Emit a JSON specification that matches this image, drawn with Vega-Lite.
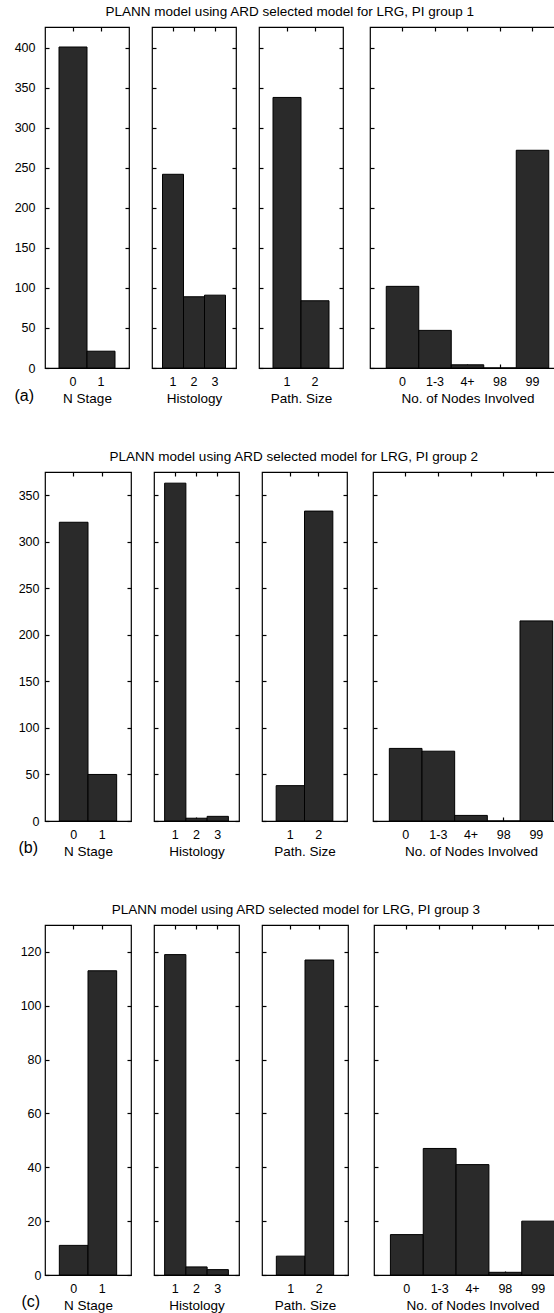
{
  "$schema": "https://vega.github.io/schema/vega-lite/v6.json",
  "padding": {"left": 13, "top": 5, "right": 0, "bottom": 0},
  "autosize": {"type": "pad"},
  "background": "white",
  "data": {"values": [
    {"g": 1, "v": "N Stage", "c": "0", "n": 401},
    {"g": 1, "v": "N Stage", "c": "1", "n": 21},
    {"g": 1, "v": "Histology", "c": "1", "n": 242},
    {"g": 1, "v": "Histology", "c": "2", "n": 89},
    {"g": 1, "v": "Histology", "c": "3", "n": 91},
    {"g": 1, "v": "Path. Size", "c": "1", "n": 338},
    {"g": 1, "v": "Path. Size", "c": "2", "n": 84},
    {"g": 1, "v": "Nodes", "c": "0", "n": 102},
    {"g": 1, "v": "Nodes", "c": "1-3", "n": 47},
    {"g": 1, "v": "Nodes", "c": "4+", "n": 4},
    {"g": 1, "v": "Nodes", "c": "98", "n": 0},
    {"g": 1, "v": "Nodes", "c": "99", "n": 272},
    {"g": 2, "v": "N Stage", "c": "0", "n": 321},
    {"g": 2, "v": "N Stage", "c": "1", "n": 50},
    {"g": 2, "v": "Histology", "c": "1", "n": 363},
    {"g": 2, "v": "Histology", "c": "2", "n": 3},
    {"g": 2, "v": "Histology", "c": "3", "n": 5},
    {"g": 2, "v": "Path. Size", "c": "1", "n": 38},
    {"g": 2, "v": "Path. Size", "c": "2", "n": 333},
    {"g": 2, "v": "Nodes", "c": "0", "n": 78},
    {"g": 2, "v": "Nodes", "c": "1-3", "n": 75},
    {"g": 2, "v": "Nodes", "c": "4+", "n": 6},
    {"g": 2, "v": "Nodes", "c": "98", "n": 0},
    {"g": 2, "v": "Nodes", "c": "99", "n": 215},
    {"g": 3, "v": "N Stage", "c": "0", "n": 11},
    {"g": 3, "v": "N Stage", "c": "1", "n": 113},
    {"g": 3, "v": "Histology", "c": "1", "n": 119},
    {"g": 3, "v": "Histology", "c": "2", "n": 3},
    {"g": 3, "v": "Histology", "c": "3", "n": 2},
    {"g": 3, "v": "Path. Size", "c": "1", "n": 7},
    {"g": 3, "v": "Path. Size", "c": "2", "n": 117},
    {"g": 3, "v": "Nodes", "c": "0", "n": 15},
    {"g": 3, "v": "Nodes", "c": "1-3", "n": 47},
    {"g": 3, "v": "Nodes", "c": "4+", "n": 41},
    {"g": 3, "v": "Nodes", "c": "98", "n": 1},
    {"g": 3, "v": "Nodes", "c": "99", "n": 20}
  ]},
  "config": {
    "font": "Liberation Sans",
    "view": {"stroke": "#000", "strokeWidth": 1.2},
    "axis": {"domain": false, "grid": false, "tickColor": "#000", "tickSize": -4, "tickWidth": 1.2, "labelColor": "#000", "titleColor": "#000", "labelFont": "Liberation Sans", "titleFont": "Liberation Sans", "labelFontSize": 12.5, "titleFontSize": 13.5, "titleFontWeight": "normal", "labelAngle": 0},
    "title": {"fontSize": 13.5, "fontWeight": "normal", "font": "Liberation Sans", "color": "#000", "anchor": "middle", "baseline": "alphabetic", "offset": 7},
    "concat": {"spacing": 19}
  },
  "spacing": 44,
  "vconcat": [
    {
      "title": {"text": "PLANN model using ARD selected model for LRG, PI group 1"},
      "spacing": 19,
      "hconcat": [
        {"width": 84, "height": 341, "transform": [{"filter": "datum.g == 1 && datum.v == 'N Stage'"}],
         "layer": [
          {"mark": {"type": "bar", "fill": "#2a2a2a", "stroke": "#000", "strokeWidth": 1},
           "encoding": {
             "x": {"field": "c", "type": "nominal", "sort": null, "scale": {"paddingInner": 0, "paddingOuter": 0.5}, "axis": {"orient": "bottom", "title": "N Stage", "labelPadding": 11, "titlePadding": 4}},
             "y": {"field": "n", "type": "quantitative", "scale": {"domain": [0, 426], "nice": false}, "axis": {"orient": "left", "values": [0, 50, 100, 150, 200, 250, 300, 350, 400], "labelPadding": 14, "title": "(a)", "titleAngle": 0, "titleX": -31, "titleY": 368, "titleAlign": "left", "titleBaseline": "middle", "titleFontSize": 16}}}},
          {"mark": {"type": "bar", "opacity": 0},
           "encoding": {
             "x": {"field": "c", "type": "nominal", "sort": null, "axis": {"orient": "top", "labels": false, "title": null}},
             "y": {"field": "n", "type": "quantitative", "axis": {"orient": "right", "labels": false, "title": null, "values": [0, 50, 100, 150, 200, 250, 300, 350, 400], "minExtent": 0, "maxExtent": 0}}}}
         ],
         "resolve": {"axis": {"x": "independent", "y": "independent"}}},
        {"width": 84, "height": 341, "transform": [{"filter": "datum.g == 1 && datum.v == 'Histology'"}],
         "layer": [
          {"mark": {"type": "bar", "fill": "#2a2a2a", "stroke": "#000", "strokeWidth": 1},
           "encoding": {
             "x": {"field": "c", "type": "nominal", "sort": null, "scale": {"paddingInner": 0, "paddingOuter": 0.5}, "axis": {"orient": "bottom", "title": "Histology", "labelPadding": 11, "titlePadding": 4}},
             "y": {"field": "n", "type": "quantitative", "scale": {"domain": [0, 426], "nice": false}, "axis": {"orient": "left", "labels": false, "title": null, "values": [0, 50, 100, 150, 200, 250, 300, 350, 400], "minExtent": 0, "maxExtent": 0}}}},
          {"mark": {"type": "bar", "opacity": 0},
           "encoding": {
             "x": {"field": "c", "type": "nominal", "sort": null, "axis": {"orient": "top", "labels": false, "title": null}},
             "y": {"field": "n", "type": "quantitative", "axis": {"orient": "right", "labels": false, "title": null, "values": [0, 50, 100, 150, 200, 250, 300, 350, 400], "minExtent": 0, "maxExtent": 0}}}}
         ],
         "resolve": {"axis": {"x": "independent", "y": "independent"}}},
        {"width": 84, "height": 341, "transform": [{"filter": "datum.g == 1 && datum.v == 'Path. Size'"}],
         "layer": [
          {"mark": {"type": "bar", "fill": "#2a2a2a", "stroke": "#000", "strokeWidth": 1},
           "encoding": {
             "x": {"field": "c", "type": "nominal", "sort": null, "scale": {"paddingInner": 0, "paddingOuter": 0.5}, "axis": {"orient": "bottom", "title": "Path. Size", "labelPadding": 11, "titlePadding": 4}},
             "y": {"field": "n", "type": "quantitative", "scale": {"domain": [0, 426], "nice": false}, "axis": {"orient": "left", "labels": false, "title": null, "values": [0, 50, 100, 150, 200, 250, 300, 350, 400], "minExtent": 0, "maxExtent": 0}}}},
          {"mark": {"type": "bar", "opacity": 0},
           "encoding": {
             "x": {"field": "c", "type": "nominal", "sort": null, "axis": {"orient": "top", "labels": false, "title": null}},
             "y": {"field": "n", "type": "quantitative", "axis": {"orient": "right", "labels": false, "title": null, "values": [0, 50, 100, 150, 200, 250, 300, 350, 400], "minExtent": 0, "maxExtent": 0}}}}
         ],
         "resolve": {"axis": {"x": "independent", "y": "independent"}}},
        {"width": 195, "height": 341, "transform": [{"filter": "datum.g == 1 && datum.v == 'Nodes'"}],
         "layer": [
          {"mark": {"type": "bar", "fill": "#2a2a2a", "stroke": "#000", "strokeWidth": 1},
           "encoding": {
             "x": {"field": "c", "type": "nominal", "sort": null, "scale": {"paddingInner": 0, "paddingOuter": 0.5}, "axis": {"orient": "bottom", "title": "No. of Nodes Involved", "labelPadding": 11, "titlePadding": 4}},
             "y": {"field": "n", "type": "quantitative", "scale": {"domain": [0, 426], "nice": false}, "axis": {"orient": "left", "labels": false, "title": null, "values": [0, 50, 100, 150, 200, 250, 300, 350, 400], "minExtent": 5, "maxExtent": 5}}}},
          {"mark": {"type": "bar", "opacity": 0},
           "encoding": {
             "x": {"field": "c", "type": "nominal", "sort": null, "axis": {"orient": "top", "labels": false, "title": null}},
             "y": {"field": "n", "type": "quantitative", "axis": {"orient": "right", "labels": false, "title": null, "values": [0, 50, 100, 150, 200, 250, 300, 350, 400], "minExtent": 0, "maxExtent": 0}}}}
         ],
         "resolve": {"axis": {"x": "independent", "y": "independent"}}}
      ]
    },
    {
      "title": {"text": "PLANN model using ARD selected model for LRG, PI group 2"},
      "spacing": 19,
      "hconcat": [
        {"width": 86, "height": 349, "transform": [{"filter": "datum.g == 2 && datum.v == 'N Stage'"}],
         "layer": [
          {"mark": {"type": "bar", "fill": "#2a2a2a", "stroke": "#000", "strokeWidth": 1},
           "encoding": {
             "x": {"field": "c", "type": "nominal", "sort": null, "scale": {"paddingInner": 0, "paddingOuter": 0.5}, "axis": {"orient": "bottom", "title": "N Stage", "labelPadding": 11, "titlePadding": 4}},
             "y": {"field": "n", "type": "quantitative", "scale": {"domain": [0, 375], "nice": false}, "axis": {"orient": "left", "values": [0, 50, 100, 150, 200, 250, 300, 350], "labelPadding": 10, "title": "(b)", "titleAngle": 0, "titleX": -27, "titleY": 375, "titleAlign": "left", "titleBaseline": "middle", "titleFontSize": 16}}}},
          {"mark": {"type": "bar", "opacity": 0},
           "encoding": {
             "x": {"field": "c", "type": "nominal", "sort": null, "axis": {"orient": "top", "labels": false, "title": null}},
             "y": {"field": "n", "type": "quantitative", "axis": {"orient": "right", "labels": false, "title": null, "values": [0, 50, 100, 150, 200, 250, 300, 350], "minExtent": 0, "maxExtent": 0}}}}
         ],
         "resolve": {"axis": {"x": "independent", "y": "independent"}}},
        {"width": 85, "height": 349, "transform": [{"filter": "datum.g == 2 && datum.v == 'Histology'"}],
         "layer": [
          {"mark": {"type": "bar", "fill": "#2a2a2a", "stroke": "#000", "strokeWidth": 1},
           "encoding": {
             "x": {"field": "c", "type": "nominal", "sort": null, "scale": {"paddingInner": 0, "paddingOuter": 0.5}, "axis": {"orient": "bottom", "title": "Histology", "labelPadding": 11, "titlePadding": 4}},
             "y": {"field": "n", "type": "quantitative", "scale": {"domain": [0, 375], "nice": false}, "axis": {"orient": "left", "labels": false, "title": null, "values": [0, 50, 100, 150, 200, 250, 300, 350], "minExtent": 0, "maxExtent": 0}}}},
          {"mark": {"type": "bar", "opacity": 0},
           "encoding": {
             "x": {"field": "c", "type": "nominal", "sort": null, "axis": {"orient": "top", "labels": false, "title": null}},
             "y": {"field": "n", "type": "quantitative", "axis": {"orient": "right", "labels": false, "title": null, "values": [0, 50, 100, 150, 200, 250, 300, 350], "minExtent": 0, "maxExtent": 0}}}}
         ],
         "resolve": {"axis": {"x": "independent", "y": "independent"}}},
        {"width": 85, "height": 349, "transform": [{"filter": "datum.g == 2 && datum.v == 'Path. Size'"}],
         "layer": [
          {"mark": {"type": "bar", "fill": "#2a2a2a", "stroke": "#000", "strokeWidth": 1},
           "encoding": {
             "x": {"field": "c", "type": "nominal", "sort": null, "scale": {"paddingInner": 0, "paddingOuter": 0.5}, "axis": {"orient": "bottom", "title": "Path. Size", "labelPadding": 11, "titlePadding": 4}},
             "y": {"field": "n", "type": "quantitative", "scale": {"domain": [0, 375], "nice": false}, "axis": {"orient": "left", "labels": false, "title": null, "values": [0, 50, 100, 150, 200, 250, 300, 350], "minExtent": 0, "maxExtent": 0}}}},
          {"mark": {"type": "bar", "opacity": 0},
           "encoding": {
             "x": {"field": "c", "type": "nominal", "sort": null, "axis": {"orient": "top", "labels": false, "title": null}},
             "y": {"field": "n", "type": "quantitative", "axis": {"orient": "right", "labels": false, "title": null, "values": [0, 50, 100, 150, 200, 250, 300, 350], "minExtent": 0, "maxExtent": 0}}}}
         ],
         "resolve": {"axis": {"x": "independent", "y": "independent"}}},
        {"width": 196, "height": 349, "transform": [{"filter": "datum.g == 2 && datum.v == 'Nodes'"}],
         "layer": [
          {"mark": {"type": "bar", "fill": "#2a2a2a", "stroke": "#000", "strokeWidth": 1},
           "encoding": {
             "x": {"field": "c", "type": "nominal", "sort": null, "scale": {"paddingInner": 0, "paddingOuter": 0.5}, "axis": {"orient": "bottom", "title": "No. of Nodes Involved", "labelPadding": 11, "titlePadding": 4}},
             "y": {"field": "n", "type": "quantitative", "scale": {"domain": [0, 375], "nice": false}, "axis": {"orient": "left", "labels": false, "title": null, "values": [0, 50, 100, 150, 200, 250, 300, 350], "minExtent": 4, "maxExtent": 4}}}},
          {"mark": {"type": "bar", "opacity": 0},
           "encoding": {
             "x": {"field": "c", "type": "nominal", "sort": null, "axis": {"orient": "top", "labels": false, "title": null}},
             "y": {"field": "n", "type": "quantitative", "axis": {"orient": "right", "labels": false, "title": null, "values": [0, 50, 100, 150, 200, 250, 300, 350], "minExtent": 0, "maxExtent": 0}}}}
         ],
         "resolve": {"axis": {"x": "independent", "y": "independent"}}}
      ]
    },
    {
      "title": {"text": "PLANN model using ARD selected model for LRG, PI group 3"},
      "spacing": 19,
      "hconcat": [
        {"width": 86, "height": 350, "transform": [{"filter": "datum.g == 3 && datum.v == 'N Stage'"}],
         "layer": [
          {"mark": {"type": "bar", "fill": "#2a2a2a", "stroke": "#000", "strokeWidth": 1},
           "encoding": {
             "x": {"field": "c", "type": "nominal", "sort": null, "scale": {"paddingInner": 0, "paddingOuter": 0.5}, "axis": {"orient": "bottom", "title": "N Stage", "labelPadding": 11, "titlePadding": 4}},
             "y": {"field": "n", "type": "quantitative", "scale": {"domain": [0, 130], "nice": false}, "axis": {"orient": "left", "values": [0, 20, 40, 60, 80, 100, 120], "labelPadding": 8, "title": "(c)", "titleAngle": 0, "titleX": -24, "titleY": 376, "titleAlign": "left", "titleBaseline": "middle", "titleFontSize": 16}}}},
          {"mark": {"type": "bar", "opacity": 0},
           "encoding": {
             "x": {"field": "c", "type": "nominal", "sort": null, "axis": {"orient": "top", "labels": false, "title": null}},
             "y": {"field": "n", "type": "quantitative", "axis": {"orient": "right", "labels": false, "title": null, "values": [0, 20, 40, 60, 80, 100, 120], "minExtent": 0, "maxExtent": 0}}}}
         ],
         "resolve": {"axis": {"x": "independent", "y": "independent"}}},
        {"width": 85, "height": 350, "transform": [{"filter": "datum.g == 3 && datum.v == 'Histology'"}],
         "layer": [
          {"mark": {"type": "bar", "fill": "#2a2a2a", "stroke": "#000", "strokeWidth": 1},
           "encoding": {
             "x": {"field": "c", "type": "nominal", "sort": null, "scale": {"paddingInner": 0, "paddingOuter": 0.5}, "axis": {"orient": "bottom", "title": "Histology", "labelPadding": 11, "titlePadding": 4}},
             "y": {"field": "n", "type": "quantitative", "scale": {"domain": [0, 130], "nice": false}, "axis": {"orient": "left", "labels": false, "title": null, "values": [0, 20, 40, 60, 80, 100, 120], "minExtent": 0, "maxExtent": 0}}}},
          {"mark": {"type": "bar", "opacity": 0},
           "encoding": {
             "x": {"field": "c", "type": "nominal", "sort": null, "axis": {"orient": "top", "labels": false, "title": null}},
             "y": {"field": "n", "type": "quantitative", "axis": {"orient": "right", "labels": false, "title": null, "values": [0, 20, 40, 60, 80, 100, 120], "minExtent": 0, "maxExtent": 0}}}}
         ],
         "resolve": {"axis": {"x": "independent", "y": "independent"}}},
        {"width": 86, "height": 350, "transform": [{"filter": "datum.g == 3 && datum.v == 'Path. Size'"}],
         "layer": [
          {"mark": {"type": "bar", "fill": "#2a2a2a", "stroke": "#000", "strokeWidth": 1},
           "encoding": {
             "x": {"field": "c", "type": "nominal", "sort": null, "scale": {"paddingInner": 0, "paddingOuter": 0.5}, "axis": {"orient": "bottom", "title": "Path. Size", "labelPadding": 11, "titlePadding": 4}},
             "y": {"field": "n", "type": "quantitative", "scale": {"domain": [0, 130], "nice": false}, "axis": {"orient": "left", "labels": false, "title": null, "values": [0, 20, 40, 60, 80, 100, 120], "minExtent": 0, "maxExtent": 0}}}},
          {"mark": {"type": "bar", "opacity": 0},
           "encoding": {
             "x": {"field": "c", "type": "nominal", "sort": null, "axis": {"orient": "top", "labels": false, "title": null}},
             "y": {"field": "n", "type": "quantitative", "axis": {"orient": "right", "labels": false, "title": null, "values": [0, 20, 40, 60, 80, 100, 120], "minExtent": 0, "maxExtent": 0}}}}
         ],
         "resolve": {"axis": {"x": "independent", "y": "independent"}}},
        {"width": 197, "height": 350, "transform": [{"filter": "datum.g == 3 && datum.v == 'Nodes'"}],
         "layer": [
          {"mark": {"type": "bar", "fill": "#2a2a2a", "stroke": "#000", "strokeWidth": 1},
           "encoding": {
             "x": {"field": "c", "type": "nominal", "sort": null, "scale": {"paddingInner": 0, "paddingOuter": 0.5}, "axis": {"orient": "bottom", "title": "No. of Nodes Involved", "labelPadding": 11, "titlePadding": 4}},
             "y": {"field": "n", "type": "quantitative", "scale": {"domain": [0, 130], "nice": false}, "axis": {"orient": "left", "labels": false, "title": null, "values": [0, 20, 40, 60, 80, 100, 120], "minExtent": 4, "maxExtent": 4}}}},
          {"mark": {"type": "bar", "opacity": 0},
           "encoding": {
             "x": {"field": "c", "type": "nominal", "sort": null, "axis": {"orient": "top", "labels": false, "title": null}},
             "y": {"field": "n", "type": "quantitative", "axis": {"orient": "right", "labels": false, "title": null, "values": [0, 20, 40, 60, 80, 100, 120], "minExtent": 0, "maxExtent": 0}}}}
         ],
         "resolve": {"axis": {"x": "independent", "y": "independent"}}}
      ]
    }
  ]
}
